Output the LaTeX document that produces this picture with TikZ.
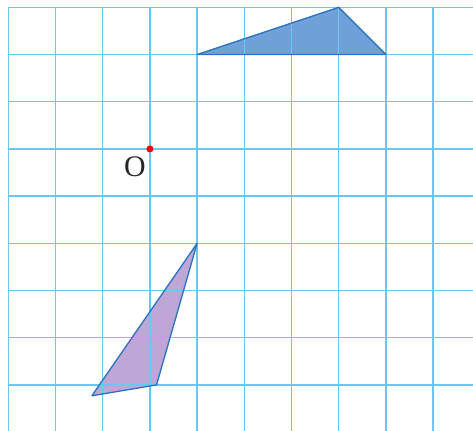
\documentclass[tikz,border=0pt]{standalone}
\usepackage{tikz}
\usepackage{xcolor}
\usepackage{fontspec}
\setmainfont{Liberation Serif}
\definecolor{gridblue}{RGB}{105,200,242}
\definecolor{edgeblue}{RGB}{45,115,195}
\definecolor{topfill}{RGB}{112,160,216}
\definecolor{lowfill}{RGB}{190,166,214}

\begin{document}
\begin{tikzpicture}[
    gridline/.style={draw=gridblue, line width=0.9pt},
    tri/.style={draw=edgeblue, line width=0.8pt, line join=round},
    dot/.style={circle, fill=red, inner sep=0pt, minimum size=0.15cm},
    lbl/.style={font=\fontsize{18}{20}\selectfont, text=black!85, inner sep=0pt}
]
    \useasboundingbox (-0.176,0.155) rectangle (9.845,-8.976);

    % corners of the two triangles
    \coordinate (A) at (4,-1);
    \coordinate (B) at (7,0);
    \coordinate (C) at (8,-1);
    \coordinate (P) at (4,-5);
    \coordinate (Q) at (3.14,-8.0);
    \coordinate (R) at (1.77,-8.23);

    \fill[topfill] (A) -- (B) -- (C) -- cycle;
    \fill[lowfill] (P) -- (Q) -- (R) -- cycle;

    \foreach \x in {0,...,9}
        \draw[gridline] (\x,0) -- (\x,-8.976);
    \foreach \y in {0,...,8}
        \draw[gridline] (0,-\y) -- (9.845,-\y);

    \draw[tri] (A) -- (B) -- (C) -- cycle;
    \draw[tri] (P) -- (Q) -- (R) -- cycle;

    \node[dot] (O) at (3,-3) {};
    \node[lbl] (Olbl) at (2.68,-3.38) {O};
\end{tikzpicture}
\end{document}
